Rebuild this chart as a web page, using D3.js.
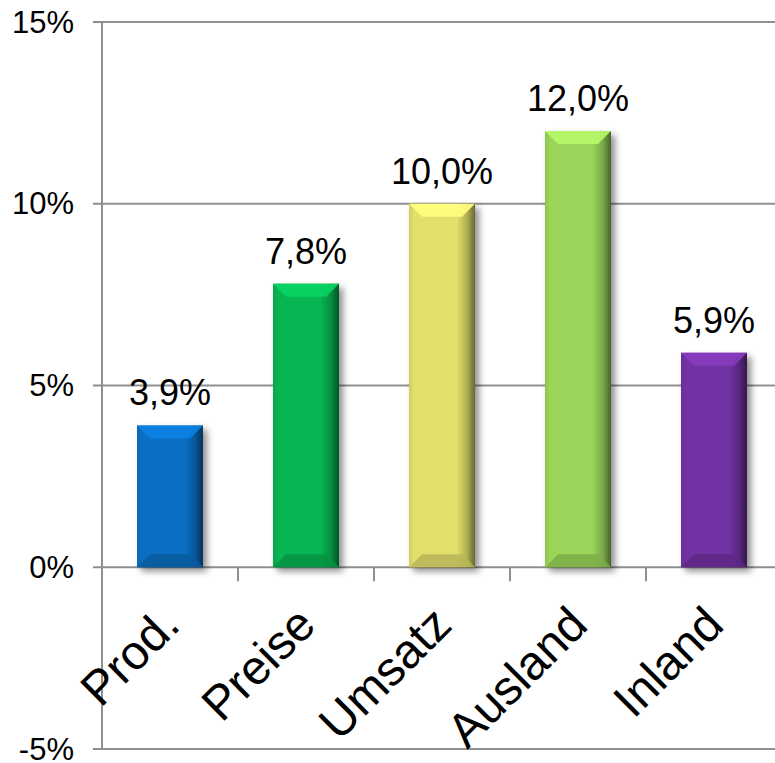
<!DOCTYPE html>
<html>
<head>
<meta charset="utf-8">
<script src="https://cdn.jsdelivr.net/npm/d3@7"></script>
<style>
  html, body { margin: 0; padding: 0; background: #fff; }
  svg { display: block; font-family: "Liberation Sans", Arial, sans-serif; }
</style>
</head>
<body>
<svg id="chart"></svg>
<script>
// Wachstum je Kennzahl
const categories = ["Prod.", "Preise", "Umsatz", "Ausland", "Inland"];
const values = [3.9, 7.8, 10.0, 12.0, 5.9];
const barColors = ["#0a6fc2", "#07b552", "#e3e06c", "#9bd65a", "#7332a3"];
const yTicks = [-5, 0, 5, 10, 15];

const width = 775, height = 763;
const de = d3.formatLocale({ decimal: ",", thousands: ".", grouping: [3], currency: ["", "€"] });
const fmtValue = v => de.format(".1f")(v) + "%";

const svg = d3.select("#chart")
  .attr("width", width)
  .attr("height", height)
  .attr("viewBox", [0, 0, width, height]);

// scales
const x = d3.scaleBand()
  .domain(categories)
  .range([102, 782])
  .paddingInner(0.515)
  .paddingOuter(0.2575);

const y = d3.scaleLinear()
  .domain([-5, 15])
  .range([749, 22]);

const defs = svg.append("defs");
defs.append("filter")
  .attr("id", "shadow")
  .attr("x", "-30%").attr("y", "-30%")
  .attr("width", "160%").attr("height", "160%")
  .append("feGaussianBlur")
  .attr("stdDeviation", 3.5);

// gridlines
svg.append("g")
  .selectAll("line")
  .data(yTicks)
  .enter().append("line")
    .attr("x1", 93)
    .attr("x2", width)
    .attr("y1", d => y(d))
    .attr("y2", d => y(d))
    .attr("stroke", "#8f8f8f")
    .attr("stroke-width", 2);

// y axis line
svg.append("line")
  .attr("x1", 102).attr("x2", 102)
  .attr("y1", y(15)).attr("y2", y(-5))
  .attr("stroke", "#8f8f8f")
  .attr("stroke-width", 2);

// category ticks below the zero line
svg.append("g")
  .selectAll("line")
  .data(categories.slice(1))
  .enter().append("line")
    .attr("x1", d => x(d) - x.step() * x.paddingInner() / 2)
    .attr("x2", d => x(d) - x.step() * x.paddingInner() / 2)
    .attr("y1", y(0))
    .attr("y2", y(0) + 14)
    .attr("stroke", "#8f8f8f")
    .attr("stroke-width", 2);

// tick labels
svg.append("g")
  .attr("text-anchor", "end")
  .style("font-size", "31px")
  .selectAll("text")
  .data(yTicks)
  .enter().append("text")
    .attr("x", 74)
    .attr("y", d => y(d))
    .attr("dy", "0.34em")
    .text(d => d + "%");

// bars with bevel
const bars = svg.append("g")
  .selectAll("g")
  .data(values)
  .enter().append("g")
    .attr("transform", (d, i) => `translate(${x(categories[i])},0)`);

const bw = x.bandwidth();
const bev = 13;

barColors.forEach((c, i) => {
  const g = defs.append("linearGradient")
    .attr("id", "grad" + i)
    .attr("x1", "0%").attr("x2", "100%")
    .attr("y1", "0%").attr("y2", "0%");
  const base = d3.color(c);
  g.append("stop").attr("offset", "0%").attr("stop-color", base.darker(0.25));
  g.append("stop").attr("offset", "8%").attr("stop-color", base);
  g.append("stop").attr("offset", "72%").attr("stop-color", base);
  g.append("stop").attr("offset", "88%").attr("stop-color", base.darker(0.7));
  g.append("stop").attr("offset", "100%").attr("stop-color", base.darker(2.2));
});

bars.append("rect")
  .attr("x", 4)
  .attr("y", d => y(d) + 4)
  .attr("width", bw)
  .attr("height", d => y(0) - y(d))
  .attr("fill", "#000")
  .attr("opacity", 0.45)
  .attr("filter", "url(#shadow)");

bars.append("rect")
  .attr("x", 0)
  .attr("y", d => y(d))
  .attr("width", bw)
  .attr("height", d => y(0) - y(d))
  .attr("fill", (d, i) => `url(#grad${i})`);

// top bevel
bars.append("path")
  .attr("d", d => {
    const t = y(d);
    return `M0,${t}L${bw},${t}L${bw - bev},${t + bev}L${bev},${t + bev}Z`;
  })
  .attr("fill", (d, i) => d3.color(barColors[i]).brighter(0.45))
  .attr("opacity", 0.9);

// bottom bevel
bars.append("path")
  .attr("d", d => {
    const b = y(0);
    return `M0,${b}L${bw},${b}L${bw - bev},${b - bev}L${bev},${b - bev}Z`;
  })
  .attr("fill", (d, i) => d3.color(barColors[i]).darker(0.6))
  .attr("opacity", 0.85);

// value labels
bars.append("text")
  .attr("x", bw / 2)
  .attr("y", d => y(d) - 20)
  .attr("text-anchor", "middle")
  .style("font-size", "36px")
  .text(d => fmtValue(d));

// category labels rotated
svg.append("g")
  .attr("text-anchor", "end")
  .style("font-size", "48px")
  .selectAll("text")
  .data(categories)
  .enter().append("text")
    .attr("transform", d => `translate(${x(d) + bw / 2 + 12},${y(0) + 60}) rotate(-45)`)
    .text(d => d);
</script>
</body>
</html>
